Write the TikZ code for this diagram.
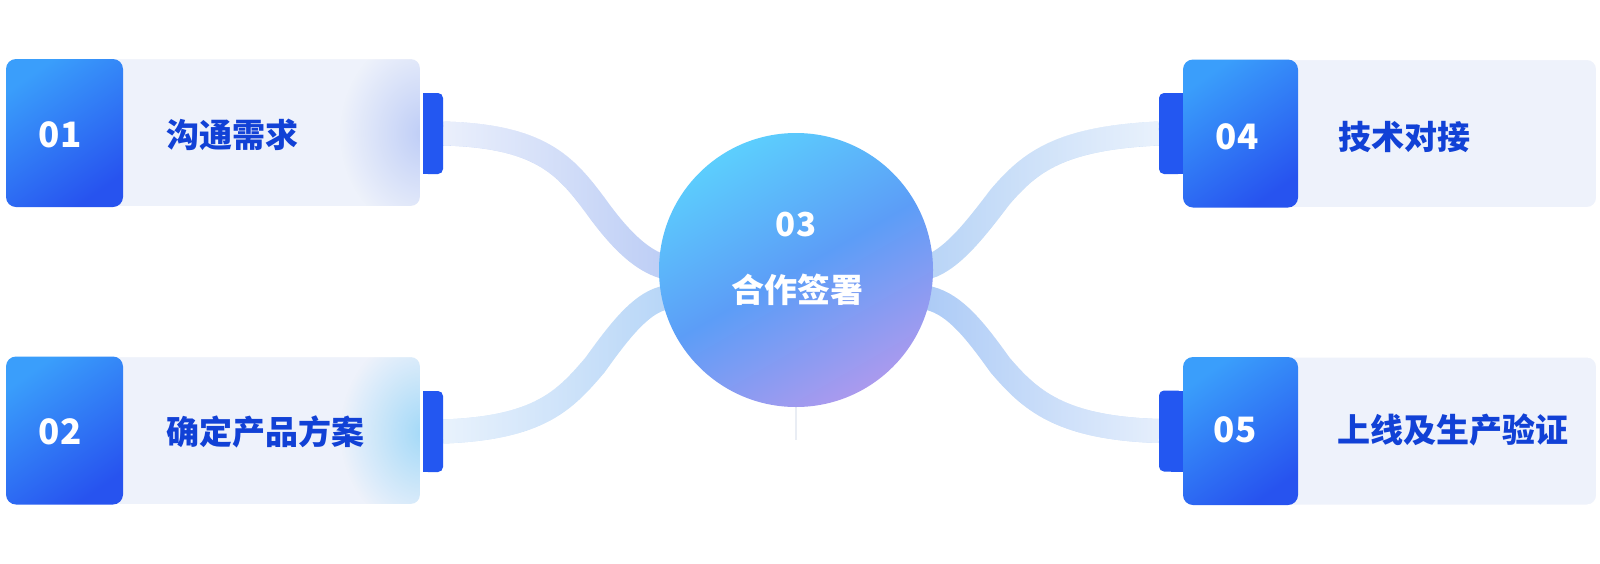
\documentclass[tikz,border=0pt]{standalone}
\usepackage{fontspec}
\newfontfamily\cjk{Noto Sans CJK SC}
\usetikzlibrary{fadings}
\definecolor{cardfill}{HTML}{EEF2FB}
\definecolor{numtop}{HTML}{3A9EFB}
\definecolor{numbot}{HTML}{2753EF}
\definecolor{tabblue}{HTML}{2357F1}
\definecolor{textblue}{HTML}{1141D6}
\definecolor{glowA}{HTML}{B9C9F6}
\definecolor{glowB}{HTML}{9AD6F8}
\definecolor{bandA}{HTML}{B8CAF5}
\definecolor{bandB}{HTML}{B2D3F7}
\definecolor{bandC}{HTML}{B3D1F6}
\definecolor{bandD}{HTML}{A6C7F6}
\definecolor{hubtop}{HTML}{5CCEFD}
\definecolor{hubmid}{HTML}{5C9DF7}
\definecolor{hubbot}{HTML}{AA9AEE}
\definecolor{tailgray}{HTML}{E9EDF4}
\tikzfading[name=glowfade, inner color=transparent!0, outer color=transparent!100]
\pgfdeclarelayer{back}
\pgfdeclarelayer{bg}
\pgfsetlayers{back,bg,main}
\begin{document}
\begin{tikzpicture}[x=1pt,y=-1pt,
  card/.style={rectangle, rounded corners=10pt, fill=cardfill, draw=white, line width=2pt,
    minimum width=415pt, minimum height=149pt, inner sep=0pt, outer sep=0pt},
  numbox/.style={rectangle, rounded corners=10pt, top color=numtop, bottom color=numbot,
    shading angle=35, minimum width=117pt, minimum height=148pt, inner sep=0pt, outer sep=0pt},
  tabbox/.style={rectangle, rounded corners=5pt, fill=tabblue, minimum width=20pt,
    minimum height=81pt, inner sep=0pt, outer sep=0pt},
  numtext/.style={text=white, font=\cjk\bfseries\fontsize{35}{40}\selectfont, inner sep=0pt},
  steptext/.style={text=textblue, font=\cjk\bfseries\fontsize{33}{40}\selectfont, inner sep=0pt, anchor=west},
  hubtext/.style={text=white, font=\cjk\bfseries\fontsize{33}{40}\selectfont, inner sep=0pt},
  band/.style={line width=24pt},
  glow/.style={path fading=glowfade, fill opacity=0.9},
  fadeL/.style={postaction={draw, white, line width=24pt, opacity=0.75, path fading=east}},
  fadeR/.style={postaction={draw, white, line width=24pt, opacity=0.75, path fading=west}},
]
\begin{pgfonlayer}{back}
  \fill[white] (0,0) rectangle (1600,563);
\end{pgfonlayer}
\useasboundingbox (0,0) rectangle (1600,563);

% ---------- card 01 ----------
\node[card] (card1) at (213.5,132.5) {};
\begin{scope}
  \clip[rounded corners=10pt] (card1.south west) rectangle (card1.north east);
  \fill[glowA, glow] (425,133) ellipse (85 and 100);
\end{scope}
\draw[white, line width=2pt, rounded corners=10pt] (card1.south west) rectangle (card1.north east);
\node[numbox] (blue1) at (64.5,133) {};
\node[tabbox] (tab1) at (433,133.5) {};
\fill[tabblue] (tab1.north west) rectangle (tab1.south);
\node[numtext] (n1) at (60,135) {01};
\node[steptext] (t1) at (166,135) {沟通需求};

% ---------- card 02 ----------
\node[card] (card2) at (213.5,430.5) {};
\begin{scope}
  \clip[rounded corners=10pt] (card2.south west) rectangle (card2.north east);
  \fill[glowB, glow] (425,432) ellipse (85 and 100);
\end{scope}
\draw[white, line width=2pt, rounded corners=10pt] (card2.south west) rectangle (card2.north east);
\node[numbox] (blue2) at (64.5,430.5) {};
\node[tabbox] (tab2) at (433,431.5) {};
\fill[tabblue] (tab2.north west) rectangle (tab2.south);
\node[numtext] (n2) at (60,432) {02};
\node[steptext] (t2) at (166,432) {确定产品方案};

% ---------- card 04 ----------
\node[card, minimum width=414pt] (card4) at (1390,133.5) {};
\node[tabbox, minimum width=24pt] (tab4) at (1171,133.5) {};
\fill[tabblue] (tab4.north) rectangle (tab4.south east);
\node[numbox, minimum width=115pt] (blue4) at (1240.5,133.5) {};
\node[numtext] (n4) at (1237,137) {04};
\node[steptext] (t4) at (1338,137) {技术对接};

% ---------- card 05 ----------
\node[card, minimum width=414pt] (card5) at (1390,431) {};
\node[tabbox, minimum width=24pt] (tab5) at (1171,431) {};
\fill[tabblue] (tab5.north) rectangle (tab5.south east);
\node[numbox, minimum width=115pt] (blue5) at (1240.5,431) {};
\node[numtext] (n5) at (1235,430) {05};
\node[steptext] (t5) at (1337,430) {上线及生产验证};

% ---------- hub ----------
\node[circle, minimum size=274pt, inner sep=0pt, outer sep=0pt,
      top color=hubtop, bottom color=hubbot, middle color=hubmid, shading angle=30] (hub) at (796,270) {};
\node[hubtext] (n3) at (796,225) {03};
\node[hubtext] (t3) at (797,290) {合作签署};
\coordinate (tail) at (796,440);

% ---------- connectors ----------
\begin{pgfonlayer}{bg}
  \draw[band, bandA, fadeL] (tab1.east) .. controls (540,136) and (565,165) .. (595,205)
        .. controls (620,240) and (640,258) .. (hub.178) -- ++(20,7);
  \draw[band, bandB, fadeL] (tab2.east) .. controls (540,428) and (565,400) .. (595,365)
        .. controls (620,330) and (640,305) .. (hub.192) -- ++(20,-6);
  \draw[band, bandC, fadeR] (tab4.west) .. controls (1060,138) and (1030,162) .. (1000,197)
        .. controls (975,230) and (955,255) .. (hub.2) -- ++(-20,7);
  \draw[band, bandD, fadeR] (tab5.west) .. controls (1060,428) and (1030,400) .. (1000,365)
        .. controls (975,330) and (955,305) .. (hub.-12) -- ++(-20,-6);
  \draw[tailgray, line width=1.2pt] (hub.south) -- (tail);
\end{pgfonlayer}
\end{tikzpicture}
\end{document}
